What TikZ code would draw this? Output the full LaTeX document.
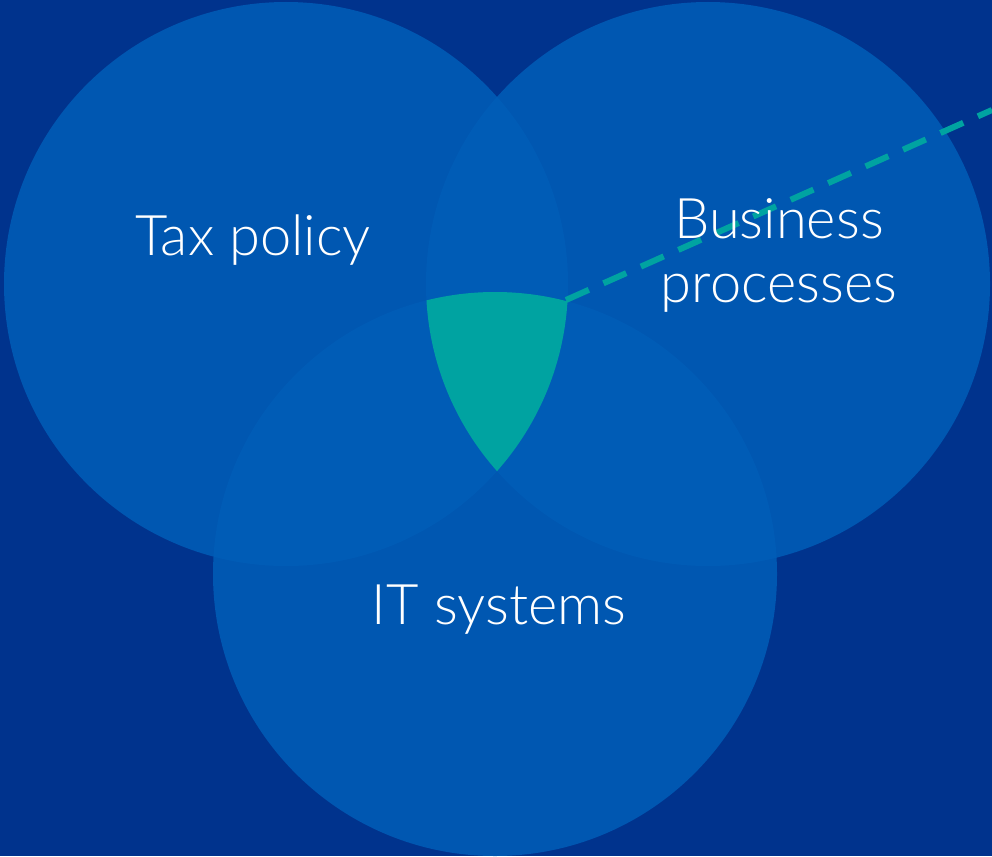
\documentclass[tikz,border=0pt]{standalone}
\usepackage{fontspec}
\setmainfont{Lato}[UprightFont={* Light}]
\usetikzlibrary{calc,positioning}

\definecolor{bgblue}{HTML}{00338D}
\definecolor{circblue}{HTML}{005EB8}
\definecolor{kteal}{HTML}{00A3A1}

\tikzset{
    venn/.style={fill=circblue,fill opacity=0.84},
    area label/.style={text=white,font=\fontsize{56}{64}\selectfont,align=center}
}

\begin{document}
\begin{tikzpicture}[x=1pt,y=-1pt]
    % Background
    \fill[bgblue] (0,0) rectangle (992,856);
    \useasboundingbox (0,0) rectangle (992,856);

    % Circle centres
    \coordinate (tax) at (286,284);   % Tax policy
    \coordinate (biz) at (708,284);   % Business processes
    \coordinate (it)  at (495,574);   % IT systems

    % Draw circles
    \foreach \c in {tax,biz,it} {
        \fill[venn] (\c) circle[radius=282pt];
    }

    % Common overlap
    \begin{scope}
        \clip (tax) circle[radius=282pt];
        \clip (biz) circle[radius=282pt];
        \fill[kteal] (it) circle[radius=282pt];
    \end{scope}

    % Dashed pointer
    \coordinate (corner) at (566,300);
    \coordinate (edge) at (992,110);
    \draw[kteal,line width=6pt,dash pattern=on 25pt off 16pt] (corner) -- (edge);

    % Labels
    \node[area label] (taxlbl) at (253,240) {Tax policy};
    \node[area label] (bizlbl) at (779,255) {Business\\processes};
    \node[area label] (itlbl)  at (499,610) {IT systems};
\end{tikzpicture}
\end{document}
